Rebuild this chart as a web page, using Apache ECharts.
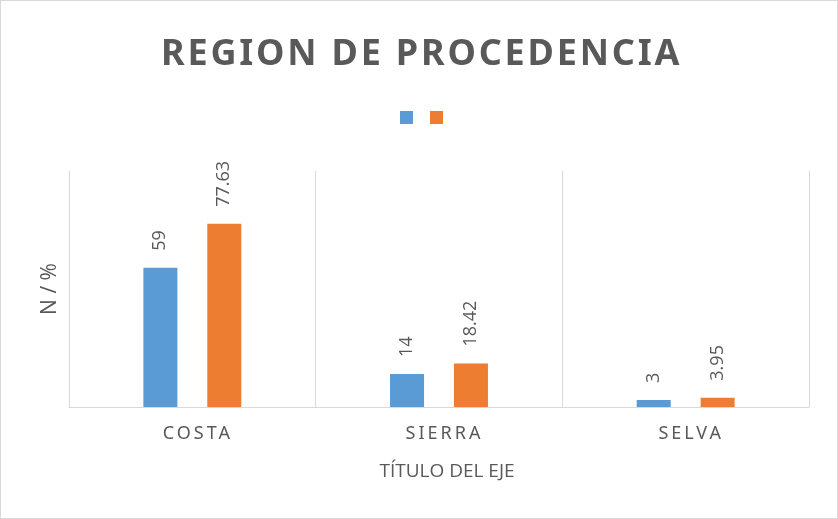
<!DOCTYPE html>
<html>
<head>
<meta charset="utf-8">
<script src="https://cdn.jsdelivr.net/npm/echarts@6/dist/echarts.min.js"></script>
<style>
html,body{margin:0;padding:0;background:#fff;}
#frame{box-sizing:border-box;width:838px;height:519px;border:1px solid #D9D9D9;}
#chart{width:836px;height:517px;}
</style>
</head>
<body>
<div id="frame"><div id="chart"></div></div>
<script>
const titleText = 'REGION DE PROCEDENCIA';
const categories = ['COSTA', 'SIERRA', 'SELVA'];
const seriesNames = ['N', '%'];
const valuesN = [59, 14, 3];
const valuesPct = [77.63, 18.42, 3.95];
const xAxisName = 'TÍTULO DEL EJE';
const yAxisName = 'N / %';

// letter spacing for the spaced texts (title and category labels use "Noto Sans")
const origFill = CanvasRenderingContext2D.prototype.fillText;
CanvasRenderingContext2D.prototype.fillText = function (t, x, y, w) {
  const f = this.font || '';
  if ('letterSpacing' in this) {
    if (/Noto Sans/.test(f) && /bold|700/.test(f)) this.letterSpacing = '2.8px';
    else if (/Noto Sans/.test(f)) this.letterSpacing = '3px';
    else this.letterSpacing = '0px';
  }
  return w === undefined ? origFill.call(this, t, x, y) : origFill.call(this, t, x, y, w);
};

const chart = echarts.init(document.getElementById('chart'), null, {renderer: 'canvas'});
const grey = '#595959';
const labelStyle = {show: true, position: 'top', rotate: 90, align: 'left', verticalAlign: 'middle', distance: 17,
  fontFamily: 'Open Sans', fontSize: 18, color: grey};
chart.setOption({
  animation: false,
  title: {
    text: titleText,
    left: 155,
    top: 31,
    textStyle: {fontFamily: 'Noto Sans', fontWeight: 'bold', fontSize: 36, color: grey}
  },
  legend: {
    data: seriesNames,
    left: 394,
    top: 105,
    itemWidth: 13,
    itemHeight: 13,
    itemGap: 17,
    formatter: function () { return ''; },
    textStyle: {fontSize: 12},
    icon: 'rect'
  },
  grid: {left: 68, right: 28, top: 170, bottom: 111, containLabel: false},
  xAxis: {
    type: 'category',
    data: categories,
    axisLine: {lineStyle: {color: '#D9D9D9', width: 1}},
    axisTick: {show: false},
    splitLine: {show: true, lineStyle: {color: '#D9D9D9', width: 1}},
    axisLabel: {margin: 18, fontFamily: 'Noto Sans', fontSize: 18, color: grey, padding: [0, 0, 0, 11]},
    name: xAxisName,
    nameLocation: 'middle',
    nameGap: 55,
    nameTextStyle: {fontFamily: 'Open Sans', fontSize: 19, color: grey, padding: [0, 0, 0, 16]}
  },
  yAxis: {
    type: 'value',
    min: 0,
    max: 100,
    axisLine: {show: false},
    axisTick: {show: false},
    axisLabel: {show: false},
    splitLine: {show: false},
    name: yAxisName,
    nameLocation: 'middle',
    nameRotate: 90,
    nameGap: 8,
    nameTextStyle: {fontFamily: 'Open Sans', fontSize: 21, color: grey}
  },
  series: [
    {
      name: seriesNames[0], type: 'bar', data: valuesN,
      barWidth: 34, barGap: '88%',
      itemStyle: {color: '#5B9BD5'},
      label: labelStyle
    },
    {
      name: seriesNames[1], type: 'bar', data: valuesPct,
      barWidth: 34, barGap: '88%',
      itemStyle: {color: '#ED7D31'},
      label: labelStyle
    }
  ]
});
</script>
</body>
</html>
